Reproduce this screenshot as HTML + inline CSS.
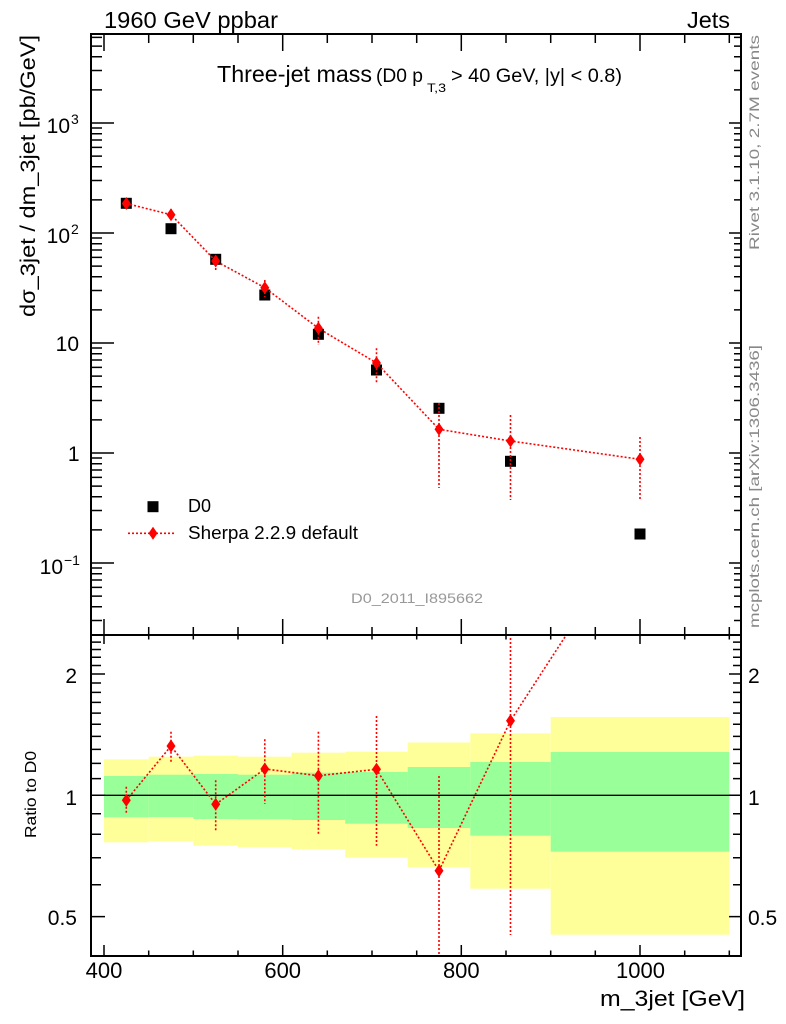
<!DOCTYPE html>
<html>
<head>
<meta charset="utf-8">
<style>
html,body{margin:0;padding:0;background:#fff;}
svg{display:block;}
text{font-family:"Liberation Sans",Arial,sans-serif;}
</style>
</head>
<body>
<svg width="786" height="1024" viewBox="0 0 786 1024" xmlns="http://www.w3.org/2000/svg" xmlns:xlink="http://www.w3.org/1999/xlink">
<defs>
  <path id="dm" d="M0,-6.5 L4.5,0 L0,6.5 L-4.5,0Z" fill="#ff0000"/>
  <clipPath id="cr"><rect x="91" y="635" width="650" height="321"/></clipPath>
  <clipPath id="cu"><rect x="91" y="34" width="650" height="601"/></clipPath>
</defs>
<rect width="786" height="1024" fill="#fff"/>

<!-- header texts -->
<text x="104" y="28" font-size="23" textLength="174" lengthAdjust="spacingAndGlyphs">1960 GeV ppbar</text>
<text x="687" y="28" font-size="23" textLength="43" lengthAdjust="spacingAndGlyphs">Jets</text>

<!-- title -->
<text x="217" y="82" font-size="23" textLength="155" lengthAdjust="spacingAndGlyphs">Three-jet mass</text>
<text x="376" y="82" font-size="19" textLength="47" lengthAdjust="spacingAndGlyphs">(D0 p</text>
<text x="427" y="92" font-size="12" textLength="19" lengthAdjust="spacingAndGlyphs">T,3</text>
<text x="451" y="82" font-size="19" textLength="171" lengthAdjust="spacingAndGlyphs">&gt; 40 GeV, |y| &lt; 0.8)</text>

<!-- ratio bands -->
<g>
  <rect x="104" y="759.3" width="44.7" height="83" fill="#ffff99"/>
  <rect x="148.7" y="756.7" width="44.6" height="84.3" fill="#ffff99"/>
  <rect x="193.3" y="755.7" width="44.7" height="90" fill="#ffff99"/>
  <rect x="238" y="756.7" width="53.6" height="90.3" fill="#ffff99"/>
  <rect x="291.6" y="752.7" width="53.6" height="96.3" fill="#ffff99"/>
  <rect x="345.2" y="751.7" width="62.5" height="106" fill="#ffff99"/>
  <rect x="407.7" y="742.5" width="62.6" height="124.5" fill="#ffff99"/>
  <rect x="470.3" y="733.3" width="80.4" height="155.4" fill="#ffff99"/>
  <rect x="550.7" y="717" width="178.6" height="217.7" fill="#ffff99"/>

  <rect x="104" y="776" width="44.7" height="41.3" fill="#99ff99"/>
  <rect x="148.7" y="774.7" width="44.6" height="42.3" fill="#99ff99"/>
  <rect x="193.3" y="774" width="44.7" height="45" fill="#99ff99"/>
  <rect x="238" y="774.7" width="53.6" height="44.6" fill="#99ff99"/>
  <rect x="291.6" y="772.7" width="53.6" height="47.3" fill="#99ff99"/>
  <rect x="345.2" y="772" width="62.5" height="51.7" fill="#99ff99"/>
  <rect x="407.7" y="767" width="62.6" height="61" fill="#99ff99"/>
  <rect x="470.3" y="762" width="80.4" height="73.7" fill="#99ff99"/>
  <rect x="550.7" y="752" width="178.6" height="99.7" fill="#99ff99"/>
</g>
<line x1="91" y1="795.3" x2="741" y2="795.3" stroke="#000" stroke-width="1.3"/>

<!-- ratio series -->
<g clip-path="url(#cr)" stroke="#ff0000" stroke-width="1.6" stroke-dasharray="2 2" fill="none">
  <polyline points="126.3,800.3 171,746 215.7,804.3 264.8,769 318.4,775.7 376.5,769.3 439,870.7 510.5,720.7 640,521.5"/>
  <line x1="126.3" y1="786.7" x2="126.3" y2="814.3"/>
  <line x1="171" y1="731.7" x2="171" y2="762.7"/>
  <line x1="215.7" y1="780.3" x2="215.7" y2="831.3"/>
  <line x1="264.8" y1="739.3" x2="264.8" y2="804"/>
  <line x1="318.4" y1="731.7" x2="318.4" y2="835"/>
  <line x1="376.5" y1="716" x2="376.5" y2="845.7"/>
  <line x1="439" y1="776" x2="439" y2="960"/>
  <line x1="510.5" y1="630" x2="510.5" y2="935"/>
</g>
<g clip-path="url(#cr)">
  <use href="#dm" xlink:href="#dm" x="126.3" y="800.3"/>
  <use href="#dm" xlink:href="#dm" x="171" y="746"/>
  <use href="#dm" xlink:href="#dm" x="215.7" y="804.3"/>
  <use href="#dm" xlink:href="#dm" x="264.8" y="769"/>
  <use href="#dm" xlink:href="#dm" x="318.4" y="775.7"/>
  <use href="#dm" xlink:href="#dm" x="376.5" y="769.3"/>
  <use href="#dm" xlink:href="#dm" x="439" y="870.7"/>
  <use href="#dm" xlink:href="#dm" x="510.5" y="720.7"/>
</g>

<!-- upper panel data -->
<g fill="#000">
  <rect x="120.8" y="197.8" width="11" height="11"/>
  <rect x="165.5" y="223.2" width="11" height="11"/>
  <rect x="210.2" y="253.8" width="11" height="11"/>
  <rect x="259.3" y="289.5" width="11" height="11"/>
  <rect x="312.9" y="328.8" width="11" height="11"/>
  <rect x="371" y="364.5" width="11" height="11"/>
  <rect x="433.5" y="402.8" width="11" height="11"/>
  <rect x="505" y="455.8" width="11" height="11"/>
  <rect x="634.5" y="528.5" width="11" height="11"/>
</g>
<g clip-path="url(#cu)" stroke="#ff0000" stroke-width="1.6" stroke-dasharray="2 2" fill="none">
  <polyline points="126.3,203.5 171,214.7 215.7,261 264.8,287.7 318.4,328.3 376.5,363 439,429.3 510.5,441 640,459.3"/>
  <line x1="126.3" y1="198" x2="126.3" y2="209"/>
  <line x1="171" y1="209" x2="171" y2="221"/>
  <line x1="215.7" y1="256" x2="215.7" y2="270"/>
  <line x1="264.8" y1="280" x2="264.8" y2="297"/>
  <line x1="318.4" y1="316.7" x2="318.4" y2="345"/>
  <line x1="376.5" y1="348.3" x2="376.5" y2="384"/>
  <line x1="439" y1="403" x2="439" y2="488"/>
  <line x1="510.5" y1="415" x2="510.5" y2="500"/>
  <line x1="640" y1="437" x2="640" y2="501"/>
</g>
<g>
  <use href="#dm" xlink:href="#dm" x="126.3" y="203.5"/>
  <use href="#dm" xlink:href="#dm" x="171" y="214.7"/>
  <use href="#dm" xlink:href="#dm" x="215.7" y="261"/>
  <use href="#dm" xlink:href="#dm" x="264.8" y="287.7"/>
  <use href="#dm" xlink:href="#dm" x="318.4" y="328.3"/>
  <use href="#dm" xlink:href="#dm" x="376.5" y="363"/>
  <use href="#dm" xlink:href="#dm" x="439" y="429.3"/>
  <use href="#dm" xlink:href="#dm" x="510.5" y="441"/>
  <use href="#dm" xlink:href="#dm" x="640" y="459.3"/>
</g>

<!-- legend -->
<rect x="147.5" y="501.2" width="11" height="11" fill="#000"/>
<text x="188" y="512" font-size="18" textLength="23" lengthAdjust="spacingAndGlyphs">D0</text>
<line x1="128" y1="533.3" x2="176" y2="533.3" stroke="#ff0000" stroke-width="1.6" stroke-dasharray="2 2"/>
<use href="#dm" xlink:href="#dm" x="153" y="533.3"/>
<text x="188" y="539" font-size="18" textLength="170" lengthAdjust="spacingAndGlyphs">Sherpa 2.2.9 default</text>

<text x="351" y="603" font-size="14" fill="#999" textLength="132" lengthAdjust="spacingAndGlyphs">D0_2011_I895662</text>

<!-- frames -->
<rect x="91" y="34" width="650" height="601" fill="none" stroke="#000" stroke-width="2"/>
<rect x="91" y="635" width="650" height="321" fill="none" stroke="#000" stroke-width="2"/>

<!-- upper y ticks -->
<path stroke="#000" stroke-width="1.5" fill="none" d="
M91 620.5h11M91 606.8h11M91 596.1h11M91 587.4h11M91 580h11M91 573.7h11M91 568h11
M91 529.9h11M91 510.5h11M91 496.8h11M91 486.1h11M91 477.4h11M91 470h11M91 463.7h11M91 458h11
M91 419.9h11M91 400.5h11M91 386.8h11M91 376.1h11M91 367.4h11M91 360h11M91 353.7h11M91 348h11
M91 309.9h11M91 290.5h11M91 276.8h11M91 266.1h11M91 257.4h11M91 250h11M91 243.7h11M91 238h11
M91 199.9h11M91 180.5h11M91 166.8h11M91 156.1h11M91 147.4h11M91 140h11M91 133.7h11M91 128h11
M91 89.9h11M91 70.5h11M91 56.8h11M91 46.1h11M91 37.4h11
M91 563h23M91 453h23M91 343h23M91 233h23M91 123h23
M741 620.5h-7M741 606.8h-7M741 596.1h-7M741 587.4h-7M741 580h-7M741 573.7h-7M741 568h-7
M741 529.9h-7M741 510.5h-7M741 496.8h-7M741 486.1h-7M741 477.4h-7M741 470h-7M741 463.7h-7M741 458h-7
M741 419.9h-7M741 400.5h-7M741 386.8h-7M741 376.1h-7M741 367.4h-7M741 360h-7M741 353.7h-7M741 348h-7
M741 309.9h-7M741 290.5h-7M741 276.8h-7M741 266.1h-7M741 257.4h-7M741 250h-7M741 243.7h-7M741 238h-7
M741 199.9h-7M741 180.5h-7M741 166.8h-7M741 156.1h-7M741 147.4h-7M741 140h-7M741 133.7h-7M741 128h-7
M741 89.9h-7M741 70.5h-7M741 56.8h-7M741 46.1h-7M741 37.4h-7
M741 563h-12M741 453h-12M741 343h-12M741 233h-12M741 123h-12
"/>

<!-- x ticks (upper panel top & bottom, ratio top & bottom) -->
<path stroke="#000" stroke-width="1.5" fill="none" d="
M104 34v17M282.7 34v17M461.3 34v17M640 34v17
M148.7 34v9M193.3 34v9M238 34v9M327.3 34v9M372 34v9M416.7 34v9M506 34v9M550.7 34v9M595.3 34v9M684.7 34v9M729.3 34v9
M104 635v-16M282.7 635v-16M461.3 635v-16M640 635v-16
M148.7 635v-8M193.3 635v-8M238 635v-8M327.3 635v-8M372 635v-8M416.7 635v-8M506 635v-8M550.7 635v-8M595.3 635v-8M684.7 635v-8M729.3 635v-8
M104 635v9M282.7 635v9M461.3 635v9M640 635v9
M148.7 635v4.5M193.3 635v4.5M238 635v4.5M327.3 635v4.5M372 635v4.5M416.7 635v4.5M506 635v4.5M550.7 635v4.5M595.3 635v4.5M684.7 635v4.5M729.3 635v4.5
M104 956v-11M282.7 956v-11M461.3 956v-11M640 956v-11
M148.7 956v-5.5M193.3 956v-5.5M238 956v-5.5M327.3 956v-5.5M372 956v-5.5M416.7 956v-5.5M506 956v-5.5M550.7 956v-5.5M595.3 956v-5.5M684.7 956v-5.5M729.3 956v-5.5
"/>

<!-- ratio y ticks -->
<path stroke="#000" stroke-width="1.5" fill="none" d="
M91 884.7h10M91 857.7h10M91 834.3h10M91 813.7h10M91 778.6h10M91 763.4h10M91 749.4h10M91 736.4h10M91 724.3h10M91 713.1h10M91 702.4h10M91 692.4h10M91 683h10M91 665.5h10M91 657.3h10M91 649.5h10M91 642.1h10
M91 916.6h14M91 795.3h14M91 674h14
M741 884.7h-8M741 857.7h-8M741 834.3h-8M741 813.7h-8M741 778.6h-8M741 763.4h-8M741 749.4h-8M741 736.4h-8M741 724.3h-8M741 713.1h-8M741 702.4h-8M741 692.4h-8M741 683h-8M741 665.5h-8M741 657.3h-8M741 649.5h-8M741 642.1h-8
M741 916.6h-12M741 795.3h-12M741 674h-12
"/>

<!-- upper y tick labels -->
<g font-size="21">
  <text x="70" y="133" text-anchor="end">10</text>
  <text x="71" y="124" font-size="14">3</text>
  <text x="70" y="243" text-anchor="end">10</text>
  <text x="71" y="234" font-size="14">2</text>
  <text x="79" y="351" text-anchor="end">10</text>
  <text x="79.5" y="461" text-anchor="end">1</text>
  <text x="63" y="574" text-anchor="end">10</text>
  <text x="64" y="565" font-size="14">−1</text>
</g>

<!-- ratio y tick labels -->
<g font-size="21">
  <text x="77" y="683" text-anchor="end">2</text>
  <text x="77" y="805" text-anchor="end">1</text>
  <text x="77" y="925" text-anchor="end">0.5</text>
  <text x="748" y="683">2</text>
  <text x="748" y="805">1</text>
  <text x="748" y="925">0.5</text>
</g>

<!-- x tick labels -->
<g font-size="22" text-anchor="middle">
  <text x="104" y="978">400</text>
  <text x="282.7" y="978">600</text>
  <text x="461.3" y="978">800</text>
  <text x="640.5" y="978">1000</text>
</g>
<text x="600" y="1006" font-size="22" textLength="145" lengthAdjust="spacingAndGlyphs">m_3jet [GeV]</text>

<!-- axis titles -->
<text transform="translate(35,317) rotate(-90)" font-size="21" textLength="282" lengthAdjust="spacingAndGlyphs">dσ_3jet / dm_3jet [pb/GeV]</text>
<text transform="translate(36,838) rotate(-90)" font-size="16" textLength="87" lengthAdjust="spacingAndGlyphs">Ratio to D0</text>

<!-- side texts -->
<text transform="translate(759,250) rotate(-90)" font-size="14" fill="#888" textLength="215" lengthAdjust="spacingAndGlyphs">Rivet 3.1.10,  2.7M events</text>
<text transform="translate(759,628) rotate(-90)" font-size="14" fill="#888" textLength="283" lengthAdjust="spacingAndGlyphs">mcplots.cern.ch [arXiv:1306.3436]</text>
</svg>
</body>
</html>
